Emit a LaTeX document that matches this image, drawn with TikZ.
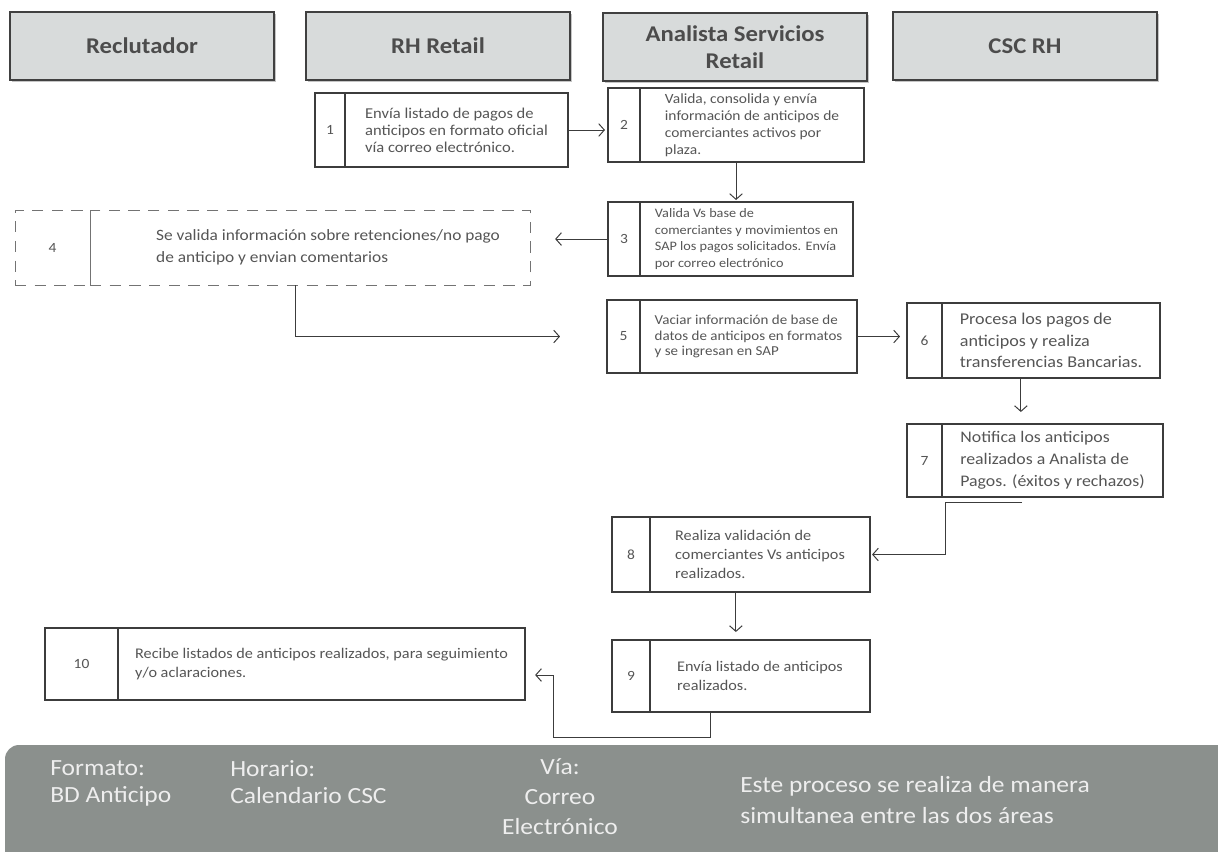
\documentclass[tikz,border=0pt]{standalone}
\usepackage{fontspec}
\setmainfont{Carlito}[FakeStretch=1.1]
\usetikzlibrary{positioning,calc,arrows.meta,shadows}
\definecolor{hdrfill}{HTML}{D8DBDB}
\definecolor{txtgray}{HTML}{555555}
\definecolor{linegray}{HTML}{3C3C3C}
\definecolor{footfill}{HTML}{8B908D}
\definecolor{foottext}{HTML}{EEEEEE}
\newcommand\stepfont[2]{\fontsize{#1}{#2}\selectfont}
\begin{document}
\begin{tikzpicture}[x=0.025cm, y=-0.025cm,
  hdr/.style={draw=black!75, line width=1pt, fill=hdrfill, minimum width=6.6cm, minimum height=1.7cm, align=center, text=black!70, font=\stepfont{16}{19}\bfseries, drop shadow={shadow xshift=1.2pt, shadow yshift=-1.5pt, fill=black!45}},
  num/.style={draw=linegray, line width=0.9pt, outer sep=0pt, inner sep=0pt, anchor=north west, text=txtgray, font=\stepfont{10}{12}},
  txt/.style={draw=linegray, line width=0.9pt, outer sep=0pt, inner sep=0pt, right=0pt of #1, align=left, text=txtgray},
  dash4/.style={draw=black!55, line width=0.6pt, dash pattern=on 8pt off 6pt},
  arr/.style={-{Straight Barb[length=4pt, width=9pt]}, draw=linegray, line width=0.7pt},
  foot/.style={text=foottext, font=\stepfont{16.5}{19.5}, align=left, inner sep=0pt}
]
\useasboundingbox (0,0) rectangle (1218,851);
\clip (0,0) rectangle (1218,851);

\node[hdr] (rec) at (142,46) {Reclutador};
\node[hdr] (rhr) at (438,46) {RH Retail};
\node[hdr] (ana) at (735,47) {Analista Servicios\\Retail};
\node[hdr] (csc) at (1025,46) {CSC RH};

\node[num, minimum width=0.75cm, minimum height=1.85cm] (n1) at (315,93) {1};
\node[txt=n1, minimum width=5.575cm, minimum height=1.85cm, font=\stepfont{10.7}{12}] (s1) {Envía listado de pagos de\\anticipos en formato oficial\\vía correo electrónico.};

\node[num, minimum width=0.8cm, minimum height=1.85cm] (n2) at (608,88) {2};
\node[txt=n2, minimum width=5.6cm, minimum height=1.85cm, font=\stepfont{10}{12}] (s2) {Valida, consolida y envía\\información de anticipos de\\comerciantes activos por\\plaza.};

\node[num, minimum width=0.8cm, minimum height=1.85cm] (n3) at (608,202) {3};
\node[txt=n3, minimum width=5.325cm, minimum height=1.85cm, font=\stepfont{9.2}{12}] (s3) {Valida Vs base de\\comerciantes y movimientos en\\SAP los pagos solicitados. Envía\\por correo electrónico};

\node[num, dash4, minimum width=1.875cm, minimum height=1.875cm] (n4) at (15,210) {4};
\node[txt=n4, dash4, minimum width=11cm, minimum height=1.875cm, font=\stepfont{11.2}{16}] (s4) {\hspace*{0.9cm}Se valida información sobre retenciones/no pago\\\hspace*{0.9cm}de anticipo y envian comentarios};

\node[num, minimum width=0.825cm, minimum height=1.825cm] (n5) at (607,300) {5};
\node[txt=n5, minimum width=5.425cm, minimum height=1.825cm, font=\stepfont{9.7}{11}] (s5) {Vaciar información de base de\\datos de anticipos en formatos\\y se ingresan en SAP};

\node[num, minimum width=0.875cm, minimum height=1.875cm] (n6) at (907,303) {6};
\node[txt=n6, minimum width=5.45cm, minimum height=1.875cm, font=\stepfont{11.7}{15.5}] (s6) {Procesa los pagos de\\anticipos y realiza\\transferencias Bancarias.};

\node[num, minimum width=0.875cm, minimum height=1.825cm] (n7) at (907,424) {7};
\node[txt=n7, minimum width=5.525cm, minimum height=1.825cm, font=\stepfont{11.5}{15.5}] (s7) {Notifica los anticipos\\realizados a Analista de\\Pagos. (éxitos y rechazos)};

\node[num, minimum width=0.95cm, minimum height=1.875cm] (n8) at (612,517) {8};
\node[txt=n8, minimum width=5.5cm, minimum height=1.875cm, font=\stepfont{10.5}{13.5}] (s8) {Realiza validación de\\comerciantes Vs anticipos\\realizados.};

\node[num, minimum width=0.95cm, minimum height=1.8cm] (n9) at (612,640) {9};
\node[txt=n9, minimum width=5.5cm, minimum height=1.8cm, font=\stepfont{10.5}{13.5}] (s9) {Envía listado de anticipos\\realizados.};

\node[num, minimum width=1.825cm, minimum height=1.8cm] (n10) at (45,628) {10};
\node[txt=n10, minimum width=10.175cm, minimum height=1.8cm, font=\stepfont{10.5}{13.5}] (s10) {Recibe listados de anticipos realizados, para seguimiento\\y/o aclaraciones.};

\draw[arr, shorten >=0.075cm] (s1.east) -- (s1.east -| n2.west);
\draw[arr, shorten >=0.05cm] ($(n2.south west)!.5!(s2.south east)$) coordinate (c23) -- (c23 |- n3.north);
\draw[arr, shorten >=0.625cm] (n3.west) -- (n3.west -| s4.east);
\draw[arr, shorten >=1.175cm] ([xshift=-0.375cm]s4.south) |- (n5.west);
\draw[arr, shorten >=0.175cm] (s5.east) -- (s5.east -| n6.west);
\draw[arr, shorten >=0.3cm] ($(n6.south west)!.45!(s6.south east)$) coordinate (c67) -- (c67 |- n7.north);
\draw[arr, shorten >=0.05cm] ($(s7.south west)+(80,5)$) -- ($(s7.south west)+(3,5)$) |- (s8.east);
\draw[arr, shorten >=0.2cm] ($(n8.south west)!.48!(s8.south east)$) coordinate (c89) -- (c89 |- n9.north);
\draw[arr] ($(n9.south west)!.38!(s9.south east)$) -- ++(0,25) -| ($(s10.east)+(28,11)$) -- ($(s10.east)+(10,11)$);

\fill[footfill, rounded corners=0.35cm] (5,745) rectangle (1250,880);
\node[foot, anchor=north west] (fmt) at (50,760) {Formato:\\BD Anticipo};
\node[foot, anchor=north west] (hor) at (230,760) {Horario:\\Calendario CSC};
\node[foot, anchor=north, align=center, font=\stepfont{16.5}{21.5}] (via) at (560,758) {Vía:\\Correo\\Electrónico};
\node[foot, anchor=west, font=\stepfont{16.5}{21.5}] (nota) at (740,800) {Este proceso se realiza de manera\\simultanea entre las dos áreas};
\end{tikzpicture}
\end{document}
